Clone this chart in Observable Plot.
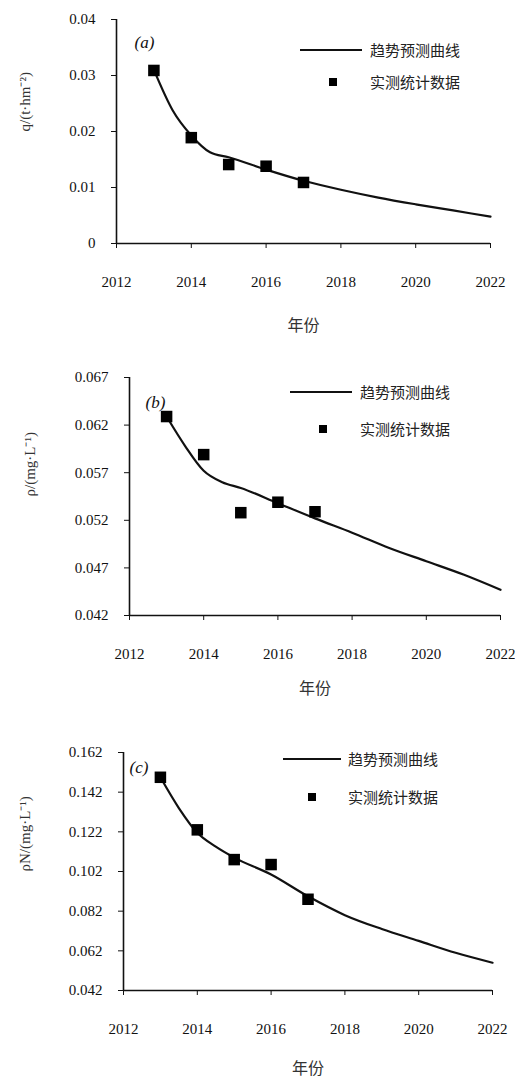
<!DOCTYPE html>
<html>
<head>
<meta charset="utf-8">
<script src="https://cdn.jsdelivr.net/npm/d3@7"></script>
<script src="https://cdn.jsdelivr.net/npm/@observablehq/plot@0.6"></script>
<style>
  html, body { margin: 0; padding: 0; background: #fff; }
  body { width: 515px; }
  .panel { position: relative; width: 515px; }
  .lg { position: absolute; font-family: "Noto Sans CJK SC", sans-serif; font-size: 15px; color: #222; white-space: nowrap; line-height: 1; }
  .lgline { position: absolute; height: 2px; background: #111; }
  .lgsq { position: absolute; width: 8px; height: 8px; background: #000; }
</style>
</head>
<body>
<div id="charts"></div>
<script>
// ---- data ----
const years = [2013, 2014, 2015, 2016, 2017];
const curveYears = [2013, 2013.5, 2014, 2014.5, 2015, 2016, 2017, 2018, 2019, 2020, 2021, 2022];
const xTicks = [2012, 2014, 2016, 2018, 2020, 2022];

const obsA = [0.0309, 0.0189, 0.0141, 0.0138, 0.0109];
const fitA = [0.0310, 0.0238, 0.0193, 0.0163, 0.0154, 0.0132, 0.0112, 0.0096, 0.0082, 0.0070, 0.0059, 0.0048];
const yTicksA = [0, 0.01, 0.02, 0.03, 0.04];

const obsB = [0.0629, 0.0589, 0.0528, 0.0539, 0.0529];
const fitB = [0.0629, 0.0598, 0.0572, 0.0560, 0.0554, 0.0538, 0.0522, 0.0507, 0.0491, 0.0477, 0.0463, 0.0447];
const yTicksB = [0.042, 0.047, 0.052, 0.057, 0.062, 0.067];

const obsC = [0.1495, 0.1230, 0.1080, 0.1055, 0.0880];
const fitC = [0.1495, 0.1340, 0.1215, 0.1145, 0.1090, 0.1005, 0.0895, 0.0800, 0.0730, 0.0670, 0.0610, 0.0560];
const yTicksC = [0.042, 0.062, 0.082, 0.102, 0.122, 0.142, 0.162];

const panelLabels = ["(a)", "(b)", "(c)"];
const yLabels = ["q/(t·hm⁻²)", "ρ/(mg·L⁻¹)", "ρN/(mg·L⁻¹)"];
const xLabel = "年份";
const legendLine = ["趋势预测曲线", "趋势预测曲线", "趋势预测曲线"];
const legendDots = ["实测统计数据", "实测统计数据", "实测统计数据"];

const panels = [
  {obs: obsA, fit: fitA, yTicks: yTicksA, dec: 2, height: 340, mt: 19, mb: 97, ml: 116, mr: 25, ylo: 91, xlo: 87,
   lab: [18, 16], lg: {lx: 300, lw: 62, ly: 50, sx: 329, sy: 78, tx: 370, t1: 42, t2: 74}},
  {obs: obsB, fit: fitB, yTicks: yTicksB, dec: 3, height: 370, mt: 37, mb: 95, ml: 129, mr: 15, ylo: 99, xlo: 78,
   lab: [16, 18], lg: {lx: 290, lw: 62, ly: 52, sx: 319, sy: 85, tx: 360, t1: 44, t2: 81}},
  {obs: obsC, fit: fitC, yTicks: yTicksC, dec: 3, height: 375, mt: 42, mb: 95, ml: 123, mr: 23, ylo: 98, xlo: 83,
   lab: [6, 8], lg: {lx: 283, lw: 58, ly: 49, sx: 308, sy: 83, tx: 348, t1: 41, t2: 79}}
];

const root = document.getElementById("charts");
panels.forEach((p, i) => {
  const obsData = years.map((x, k) => ({x, y: p.obs[k]}));
  const fitData = curveYears.map((x, k) => ({x, y: p.fit[k]}));
  const ymin = p.yTicks[0], ymax = p.yTicks[p.yTicks.length - 1];
  const chart = Plot.plot({
    width: 515,
    height: p.height,
    marginTop: p.mt, marginBottom: p.mb, marginLeft: p.ml, marginRight: p.mr,
    style: {fontFamily: "Liberation Serif, serif", fontSize: "15px", color: "#111", background: "#fff"},
    x: {domain: [2012, 2022], ticks: xTicks, tickFormat: d => String(d), label: null, tickSize: 5, tickPadding: 28},
    y: {domain: [ymin, ymax], ticks: p.yTicks, tickFormat: d => d === 0 ? "0" : d.toFixed(p.dec), label: null, tickSize: 5, tickPadding: 16},
    marks: [
      Plot.ruleX([2012], {stroke: "#111", strokeWidth: 1.6}),
      Plot.ruleY([ymin], {stroke: "#111", strokeWidth: 1.6}),
      Plot.line(fitData, {x: "x", y: "y", curve: "monotone-x", stroke: "#111", strokeWidth: 2.2}),
      Plot.dot(obsData, {x: "x", y: "y", symbol: "square", r: 6.5, fill: "#000", stroke: "none"}),
      Plot.text([panelLabels[i]], {frameAnchor: "top-left", dx: p.lab[0], dy: p.lab[1], fontSize: 17, fontStyle: "italic", fontFamily: "Liberation Serif, serif", fill: "#111"}),
      Plot.text([xLabel], {frameAnchor: "bottom", dy: p.xlo, fontSize: 16, fontFamily: "Noto Sans CJK SC, sans-serif", fill: "#333"}),
      Plot.text([yLabels[i]], {frameAnchor: "left", dx: -p.ylo, rotate: -90, fontSize: 15, fontFamily: "Liberation Serif, serif", fill: "#333"})
    ]
  });
  const div = document.createElement("div");
  div.className = "panel";
  div.style.height = p.height + "px";
  div.appendChild(chart);
  const g = p.lg;
  const line = document.createElement("div");
  line.className = "lgline";
  line.style.left = g.lx + "px"; line.style.top = (g.ly - 1) + "px"; line.style.width = g.lw + "px";
  div.appendChild(line);
  const sq = document.createElement("div");
  sq.className = "lgsq";
  sq.style.left = g.sx + "px"; sq.style.top = g.sy + "px";
  div.appendChild(sq);
  const t1 = document.createElement("div");
  t1.className = "lg"; t1.textContent = legendLine[i];
  t1.style.left = g.tx + "px"; t1.style.top = g.t1 + "px";
  div.appendChild(t1);
  const t2 = document.createElement("div");
  t2.className = "lg"; t2.textContent = legendDots[i];
  t2.style.left = g.tx + "px"; t2.style.top = g.t2 + "px";
  div.appendChild(t2);
  root.appendChild(div);
});
</script>
</body>
</html>
